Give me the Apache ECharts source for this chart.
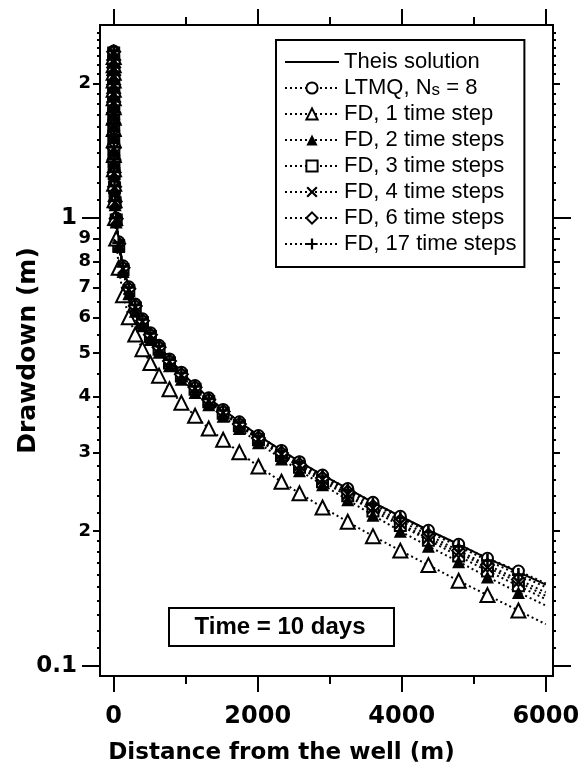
<!DOCTYPE html>
<html>
<head>
<meta charset="utf-8">
<script src="https://cdn.jsdelivr.net/npm/echarts@6/dist/echarts.min.js"></script>
<style>
  html, body { margin: 0; padding: 0; background: #fff; }
  #chart { width: 586px; height: 771px; }
</style>
</head>
<body>
<div id="chart"></div>
<script>
// distance from the well (m), shared by every series
const distance = [0.01, 0.018, 0.03, 0.05, 0.09, 0.15, 0.25, 0.45, 0.8, 1.4,
  2.5, 4.2, 7, 12, 20, 35, 70, 130, 210, 300,
  400, 510, 630, 775, 940, 1130, 1320, 1520, 1745, 2010,
  2330, 2580, 2900, 3250, 3600, 3980, 4370, 4790, 5190, 5620, 6000];

// drawdown (m)
const theis = [2.361, 2.263, 2.178, 2.093, 1.995, 1.910, 1.824, 1.727, 1.631, 1.538,
  1.441, 1.354, 1.269, 1.180, 1.094, 1.001, 0.886, 0.783, 0.703, 0.643,
  0.596, 0.555, 0.520, 0.485, 0.453, 0.423, 0.397, 0.374, 0.351, 0.327,
  0.303, 0.286, 0.267, 0.249, 0.232, 0.216, 0.201, 0.187, 0.174, 0.162, 0.152];
const ltmq = [2.361, 2.263, 2.178, 2.093, 1.995, 1.910, 1.824, 1.727, 1.631, 1.538,
  1.441, 1.354, 1.269, 1.180, 1.094, 1.001, 0.886, 0.783, 0.703, 0.643,
  0.596, 0.555, 0.520, 0.485, 0.453, 0.423, 0.397, 0.374, 0.351, 0.327,
  0.303, 0.286, 0.267, 0.249, 0.232, 0.216, 0.201, 0.187, 0.174, 0.163, 0.153];
const fd1 = [2.290, 2.195, 2.113, 2.030, 1.935, 1.853, 1.769, 1.675, 1.582, 1.492,
  1.383, 1.286, 1.193, 1.097, 1.001, 0.901, 0.775, 0.673, 0.601, 0.550,
  0.510, 0.475, 0.445, 0.415, 0.387, 0.362, 0.339, 0.320, 0.300, 0.279,
  0.258, 0.243, 0.226, 0.210, 0.195, 0.181, 0.168, 0.155, 0.144, 0.133, 0.124];
const fd2 = [2.326, 2.229, 2.145, 2.062, 1.965, 1.881, 1.797, 1.701, 1.607, 1.515,
  1.412, 1.327, 1.244, 1.156, 1.072, 0.981, 0.864, 0.760, 0.678, 0.620,
  0.575, 0.536, 0.502, 0.468, 0.437, 0.408, 0.383, 0.361, 0.339, 0.315,
  0.290, 0.273, 0.254, 0.235, 0.217, 0.200, 0.185, 0.171, 0.158, 0.146, 0.1365];
const fd3 = [2.337, 2.240, 2.156, 2.072, 1.975, 1.891, 1.806, 1.710, 1.615, 1.523,
  1.427, 1.340, 1.256, 1.168, 1.083, 0.991, 0.868, 0.767, 0.689, 0.630,
  0.584, 0.544, 0.510, 0.475, 0.444, 0.415, 0.389, 0.367, 0.344, 0.320,
  0.295, 0.278, 0.258, 0.240, 0.222, 0.206, 0.191, 0.176, 0.163, 0.151, 0.141];
const fd4 = [2.344, 2.247, 2.163, 2.078, 1.981, 1.897, 1.811, 1.715, 1.620, 1.527,
  1.431, 1.345, 1.260, 1.172, 1.086, 0.994, 0.873, 0.771, 0.692, 0.633,
  0.587, 0.547, 0.512, 0.478, 0.446, 0.417, 0.391, 0.368, 0.346, 0.321,
  0.297, 0.280, 0.261, 0.242, 0.225, 0.208, 0.193, 0.179, 0.166, 0.154, 0.1435];
const fd6 = [2.352, 2.254, 2.169, 2.085, 1.987, 1.902, 1.817, 1.720, 1.624, 1.532,
  1.435, 1.349, 1.264, 1.175, 1.090, 0.997, 0.877, 0.775, 0.696, 0.637,
  0.590, 0.549, 0.515, 0.480, 0.448, 0.419, 0.393, 0.370, 0.347, 0.323,
  0.299, 0.282, 0.263, 0.245, 0.227, 0.211, 0.196, 0.181, 0.168, 0.156, 0.146];
const fd17 = [2.359, 2.261, 2.176, 2.091, 1.993, 1.908, 1.822, 1.725, 1.629, 1.536,
  1.440, 1.353, 1.268, 1.179, 1.093, 1.000, 0.882, 0.780, 0.700, 0.640,
  0.594, 0.553, 0.518, 0.483, 0.451, 0.421, 0.395, 0.372, 0.350, 0.326,
  0.302, 0.285, 0.265, 0.247, 0.230, 0.214, 0.199, 0.185, 0.172, 0.160, 0.150];

// ticks and tick labels
const xMajor = [0, 2000, 4000, 6000];
const xMinor = [1000, 3000, 5000];
const yLabelValues = [2, 1, 0.9, 0.8, 0.7, 0.6, 0.5, 0.4, 0.3, 0.2, 0.1];
const yLabelTexts = ['2', '1', '9', '8', '7', '6', '5', '4', '3', '2', '0.1'];
const yDecade = [1, 0.1];
const yMid = [2, 0.9, 0.8, 0.7, 0.6, 0.5, 0.4, 0.3, 0.2];
const yMinor = [2.6, 2.5, 2.4, 2.3, 2.2, 2.1, 1.9, 1.8, 1.7, 1.6, 1.5, 1.4, 1.3, 1.2, 1.1,
  0.95, 0.85, 0.75, 0.65, 0.55, 0.45, 0.38, 0.36, 0.34, 0.32,
  0.28, 0.26, 0.24, 0.22, 0.19, 0.18, 0.17, 0.16, 0.15, 0.14, 0.13, 0.12, 0.11];

const X_MIN = -190, X_MAX = 6100, Y_MIN = 0.095, Y_MAX = 2.7;

const plusPath = 'path://M4,0H6V4H10V6H6V10H4V6H0V4H4Z';
const crossPath = 'path://M1.4,0L5,3.6L8.6,0L10,1.4L6.4,5L10,8.6L8.6,10L5,6.4L1.4,10L0,8.6L3.6,5L0,1.4Z';
const solidIcon = 'path://M0,0H60V2.4H0Z';

const chart = echarts.init(document.getElementById('chart'));

function pts(vals) {
  return distance.map((r, i) => {
    // last node has no marker, the line just runs on to 6000 m
    if (i === distance.length - 1) return { value: [r, vals[i]], symbol: 'none' };
    return [r, vals[i]];
  });
}

function markSeries(name, vals, symbol, size, filled) {
  return {
    name: name,
    type: 'line',
    data: pts(vals),
    symbol: symbol,
    symbolSize: size,
    showSymbol: true,
    animation: false,
    itemStyle: {
      color: filled ? '#000' : '#fff',
      borderColor: '#000',
      borderWidth: filled ? 0 : 2
    },
    lineStyle: { color: '#000', width: 2, type: [2, 3] }
  };
}

// tick-only axes live in their own grids (same rectangle) so each side has one axis per grid
function tickAxisY(grid, pos, values, len) {
  return {
    gridIndex: grid, type: 'log', position: pos, min: Y_MIN, max: Y_MAX,
    axisLine: { show: false, onZero: false },
    axisLabel: { show: false },
    splitLine: { show: false },
    axisTick: { show: true, customValues: values, length: len, lineStyle: { color: '#000', width: 2 } }
  };
}
function tickAxisX(grid, pos, values, len) {
  return {
    gridIndex: grid, type: 'value', position: pos, min: X_MIN, max: X_MAX,
    axisLine: { show: false, onZero: false },
    axisLabel: { show: false },
    splitLine: { show: false },
    axisTick: { show: true, customValues: values, length: len, lineStyle: { color: '#000', width: 2 } }
  };
}

const gridBox = { left: 100, right: 33, top: 25, bottom: 95 };

const option = {
  backgroundColor: '#fff',
  animation: false,
  grid: [
    Object.assign({ show: true, borderColor: '#000', borderWidth: 2, backgroundColor: 'transparent' }, gridBox),
    Object.assign({ show: false }, gridBox),
    Object.assign({ show: false }, gridBox)
  ],
  xAxis: [
    {
      gridIndex: 0, type: 'value', position: 'bottom', min: X_MIN, max: X_MAX,
      name: 'Distance from the well (m)',
      nameLocation: 'middle', nameGap: 66,
      nameTextStyle: { fontFamily: 'DejaVu Sans', fontWeight: 'bold', fontSize: 23, color: '#000', padding: [0, 90, 0, 0] },
      axisLine: { show: false, onZero: false },
      splitLine: { show: false },
      axisTick: { show: true, customValues: xMajor, length: 16, lineStyle: { color: '#000', width: 2 } },
      axisLabel: {
        customValues: xMajor, margin: 29,
        formatter: v => String(Math.round(v)),
        fontFamily: 'DejaVu Sans', fontWeight: 'bold', fontSize: 24, color: '#000'
      }
    },
    tickAxisX(0, 'top', xMajor, 16),
    tickAxisX(1, 'bottom', xMinor, 8),
    tickAxisX(1, 'top', xMinor, 8),
    { gridIndex: 2, type: 'value', min: X_MIN, max: X_MAX, show: false }
  ],
  yAxis: [
    {
      gridIndex: 0, type: 'log', position: 'left', min: Y_MIN, max: Y_MAX,
      name: 'Drawdown (m)',
      nameLocation: 'middle', nameGap: 59, nameMoveOverlap: false,
      nameTextStyle: { fontFamily: 'DejaVu Sans', fontWeight: 'bold', fontSize: 25, color: '#000' },
      axisLine: { show: false, onZero: false },
      splitLine: { show: false },
      axisTick: { show: true, customValues: yDecade, length: 18, lineStyle: { color: '#000', width: 2 } },
      axisLabel: {
        customValues: yLabelValues, margin: 9,
        fontFamily: 'DejaVu Sans', fontWeight: 'bold', color: '#000',
        formatter: function (v) {
          let k = yLabelValues.findIndex(t => Math.abs(t - v) < 1e-6);
          if (k < 0) return '';
          if (yDecade.some(d => Math.abs(d - v) < 1e-6)) return '{big|' + yLabelTexts[k] + '}';
          return '{small|' + yLabelTexts[k] + '}';
        },
        rich: {
          big: { fontFamily: 'DejaVu Sans', fontWeight: 'bold', fontSize: 23, color: '#000', padding: [0, 14, 0, 0] },
          small: { fontFamily: 'DejaVu Sans', fontWeight: 'bold', fontSize: 18, color: '#000' }
        }
      }
    },
    tickAxisY(0, 'right', yDecade, 18),
    tickAxisY(1, 'left', yMid, 7),
    tickAxisY(1, 'right', yMid, 7),
    tickAxisY(2, 'left', yMinor, 3),
    tickAxisY(2, 'right', yMinor, 3)
  ],
  legend: {
    orient: 'vertical',
    left: 276, top: 40,
    padding: [11, 8, 12, 8],
    borderColor: '#000', borderWidth: 2, backgroundColor: '#fff',
    itemWidth: 54, itemHeight: 14, itemGap: 4,
    selectedMode: false,
    textStyle: {
      fontFamily: 'Liberation Sans', fontSize: 22, color: '#000', lineHeight: 22,
      rich: { s: { fontFamily: 'Liberation Sans', fontSize: 17, color: '#000', padding: [4, 0, 0, 0] } }
    },
    formatter: function (name) {
      if (name === 'LTMQ, Ns = 8') return 'LTMQ, N{s|s} = 8';
      return name;
    },
    data: [{ name: 'Theis solution', icon: solidIcon }, 'LTMQ, Ns = 8', 'FD, 1 time step', 'FD, 2 time steps',
      'FD, 3 time steps', 'FD, 4 time steps', 'FD, 6 time steps', 'FD, 17 time steps']
  },
  graphic: [
    {
      type: 'rect', left: 168, top: 607, z: 50,
      shape: { width: 225, height: 38 },
      style: { fill: '#fff', stroke: '#000', lineWidth: 2 }
    },
    {
      type: 'text', x: 280, y: 627, z: 51,
      style: {
        text: 'Time = 10 days', textAlign: 'center', textVerticalAlign: 'middle',
        font: 'bold 24px "Liberation Sans"', fill: '#000'
      }
    }
  ],
  series: [
    markSeries('LTMQ, Ns = 8', ltmq, 'circle', 11, false),
    markSeries('FD, 3 time steps', fd3, 'rect', 11, false),
    markSeries('FD, 6 time steps', fd6, 'diamond', 13, false),
    markSeries('FD, 1 time step', fd1, 'triangle', 14, false),
    markSeries('FD, 4 time steps', fd4, crossPath, 12, true),
    markSeries('FD, 17 time steps', fd17, plusPath, 13, true),
    markSeries('FD, 2 time steps', fd2, 'triangle', 13, true),
    {
      name: 'Theis solution',
      type: 'line',
      data: distance.map((r, i) => [r, theis[i]]),
      symbol: 'none',
      animation: false,
      itemStyle: { color: '#000' },
      lineStyle: { color: '#000', width: 2, type: 'solid' }
    }
  ]
};

chart.setOption(option);
</script>
</body>
</html>
